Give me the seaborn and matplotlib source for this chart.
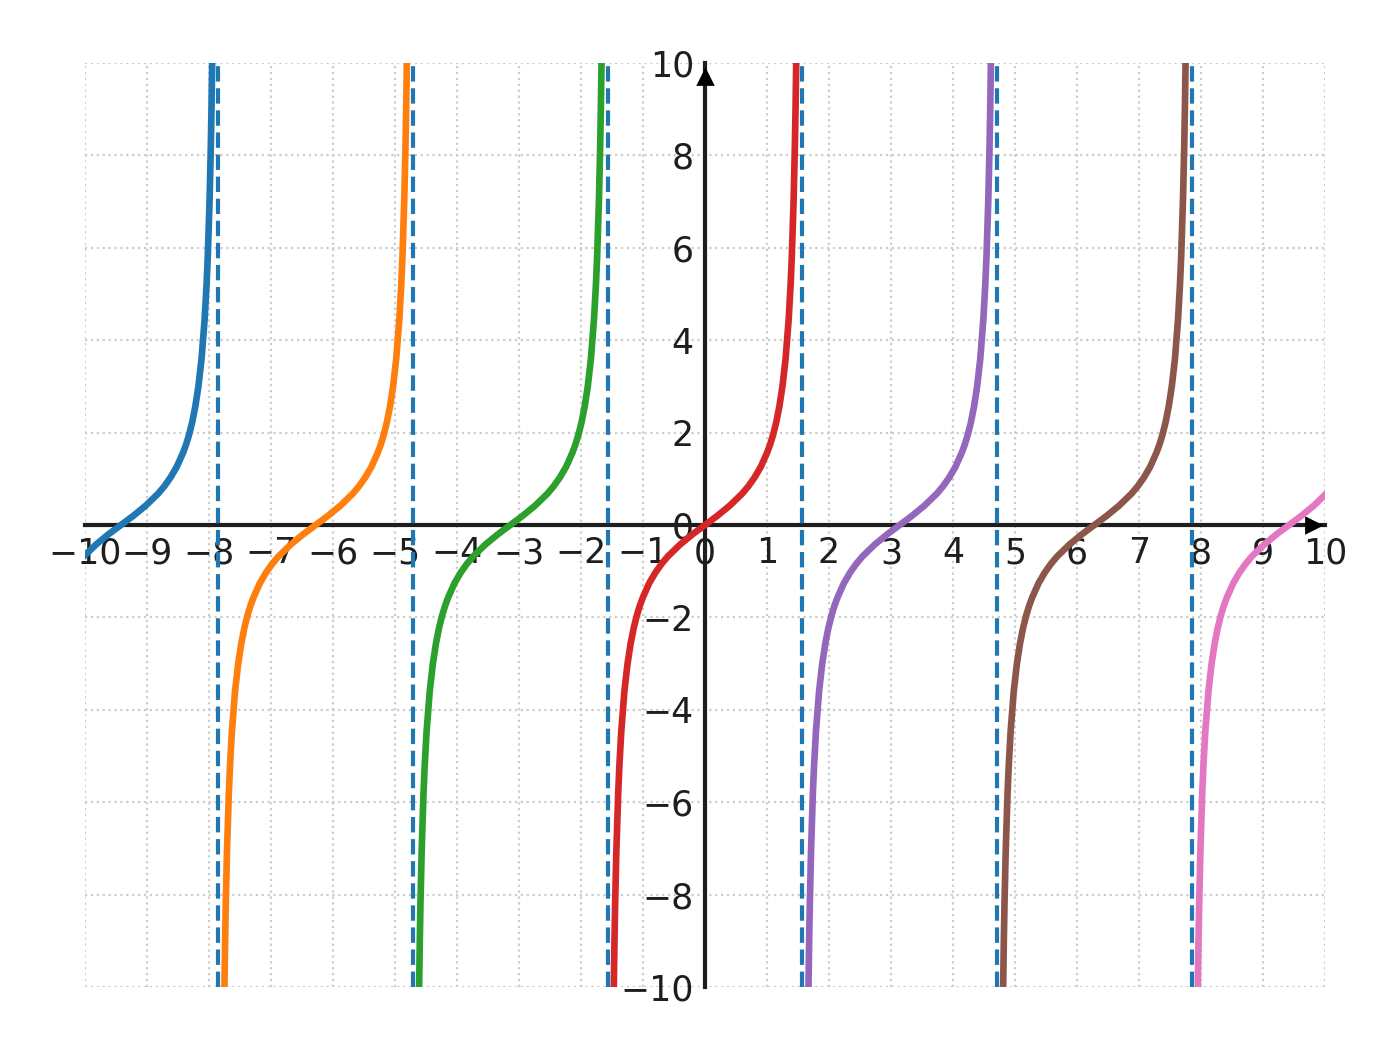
import matplotlib
matplotlib.use("Agg")
import matplotlib.pyplot as plt
import seaborn as sns
import pandas as pd

# shape of one branch: offset from its zero crossing -> y
offsets = [-1.49, -1.47, -1.46, -1.45, -1.43, -1.40, -1.38, -1.35, -1.30, -1.25,
           -1.20, -1.15, -1.10, -1.05, -1.00, -0.90, -0.80, -0.70, -0.60, -0.50,
           -0.40, -0.30, -0.20, -0.10, 0.00, 0.10, 0.20, 0.30, 0.40, 0.50,
           0.60, 0.70, 0.80, 0.90, 1.00, 1.05, 1.10, 1.15, 1.20, 1.25,
           1.30, 1.35, 1.38, 1.40, 1.43, 1.45, 1.46, 1.47, 1.49]
shape_y = [-12.35, -9.89, -8.99, -8.24, -7.06, -5.80, -5.18, -4.46, -3.60, -3.01,
           -2.57, -2.23, -1.96, -1.74, -1.56, -1.26, -1.03, -0.84, -0.68, -0.55,
           -0.42, -0.31, -0.20, -0.10, 0.00, 0.10, 0.20, 0.31, 0.42, 0.55,
           0.68, 0.84, 1.03, 1.26, 1.56, 1.74, 1.96, 2.23, 2.57, 3.01,
           3.60, 4.46, 5.18, 5.80, 7.06, 8.24, 8.99, 9.89, 12.35]

# zero crossings of each branch and the vertical asymptotes
centers = [-9.42, -6.28, -3.14, 0.0, 3.14, 6.28, 9.42]
asymptotes = [-7.85, -4.71, -1.57, 1.57, 4.71, 7.85]

x_ticks = list(range(-10, 11))
y_ticks = list(range(-10, 11, 2))

rows = []
for i, c in enumerate(centers):
    for o, v in zip(offsets, shape_y):
        rows.append({"x": c + o, "y": v, "branch": i})
df = pd.DataFrame(rows)

sns.set_style("white")
plt.rcParams["font.family"] = ["DejaVu Sans"]
ink = "#1e1e1e"

fig = plt.figure(figsize=(6.98, 5.285), dpi=200)
ax = fig.add_axes([85 / 1396, 1 - 987 / 1057, 1240 / 1396, 924 / 1057])

sns.lineplot(data=df, x="x", y="y", hue="branch", palette="tab10",
             estimator=None, sort=False, legend=False, lw=2.4, zorder=4, ax=ax)

for a in asymptotes:
    ax.axvline(a, color="#1f77b4", ls="--", lw=1.5, zorder=3)

ax.set_xlim(-10, 10)
ax.set_ylim(-10, 10)
ax.set_xticks(x_ticks)
ax.set_yticks(y_ticks)
ax.set_xlabel("")
ax.set_ylabel("")
ax.grid(True, ls=":", color="#cccccc", lw=0.8, zorder=0)
ax.set_axisbelow(True)

ax.spines["left"].set_position(("data", 0))
ax.spines["bottom"].set_position(("data", 0))
ax.spines["top"].set_visible(False)
ax.spines["right"].set_visible(False)
for s in ("left", "bottom"):
    ax.spines[s].set_color(ink)
    ax.spines[s].set_linewidth(1.5)
    ax.spines[s].set_zorder(2.5)

ax.tick_params(direction="in", length=4, width=1.2, color=ink,
               labelcolor=ink, labelsize=12.5, pad=4)

ax.plot(0.99, 0, ">", color="black", ms=5, transform=ax.get_yaxis_transform(),
        clip_on=False, zorder=3)
ax.plot(0, 0.985, "^", color="black", ms=5, transform=ax.get_xaxis_transform(),
        clip_on=False, zorder=3)

fig.savefig("out.png", dpi=200)
